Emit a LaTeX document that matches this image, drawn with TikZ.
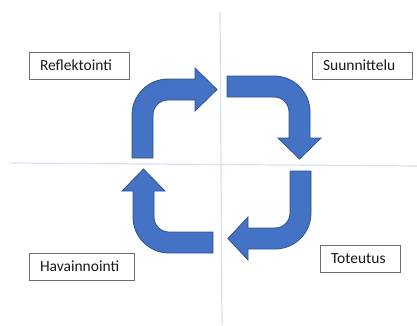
\documentclass[tikz,border=0pt]{standalone}
\usepackage{fontspec}
\setmainfont{Carlito}
\definecolor{arrowblue}{HTML}{4472C4}
\definecolor{arrowedge}{HTML}{2F528F}
\definecolor{axis}{HTML}{D6E0F2}
\definecolor{boxedge}{HTML}{6E6E6E}
\tikzset{
  bentarrow/.style={fill=arrowblue, draw=arrowedge, line width=0.8pt, line join=miter},
  axisline/.style={draw=axis, line width=1.2pt},
  label/.style={draw=boxedge, line width=0.8pt, fill=white, inner xsep=11pt, inner ysep=0pt,
    minimum height=27pt, align=left, font=\fontsize{15.5}{18}\selectfont, text=black!90},
}
\begin{document}
\begin{tikzpicture}[x=1pt,y=1pt]
\useasboundingbox (0,0) rectangle (417,-325);
% axes
\draw[axisline] (220,-12) -- (222,-325);
\draw[axisline] (11,-163) -- (417,-166);
% top-left arrow (up then right)
\draw[bentarrow] (132,-158) -- (132,-115) arc[start angle=180,end angle=90,radius=36]
  -- (195,-79) -- (195,-68) -- (217,-89.5) -- (195,-111) -- (195,-100) -- (168,-100)
  arc[start angle=90,end angle=180,radius=15] -- (153,-158) -- cycle;
% top-right arrow (right then down)
\draw[bentarrow] (227,-76) -- (274,-76) arc[start angle=90,end angle=0,radius=36]
  -- (310,-138) -- (321,-138) -- (299.5,-159) -- (278,-138) -- (289,-138) -- (289,-112)
  arc[start angle=0,end angle=90,radius=15] -- (227,-97) -- cycle;
% bottom-right arrow (down then left)
\draw[bentarrow] (290,-171) -- (311,-171) -- (311,-213) arc[start angle=0,end angle=-90,radius=36]
  -- (248,-249) -- (248,-260) -- (228,-238.5) -- (248,-217) -- (248,-228) -- (275,-228)
  arc[start angle=-90,end angle=0,radius=15] -- cycle;
% bottom-left arrow (left then up)
\draw[bentarrow] (213,-232) -- (213,-253) -- (169,-253) arc[start angle=-90,end angle=-180,radius=36]
  -- (133,-191) -- (122,-191) -- (143.5,-169) -- (165,-191) -- (154,-191) -- (154,-217)
  arc[start angle=180,end angle=270,radius=15] -- cycle;
% labels
\node[label, text width=78pt] (refl) at (79,-65.5) {Reflektointi};
\node[label, text width=78pt] (suun) at (362,-65.5) {Suunnittelu};
\node[label, text width=58pt] (tote) at (360,-258.5) {Toteutus};
\node[label, text width=83pt] (hava) at (81.5,-266.5) {Havainnointi};
\end{tikzpicture}
\end{document}
